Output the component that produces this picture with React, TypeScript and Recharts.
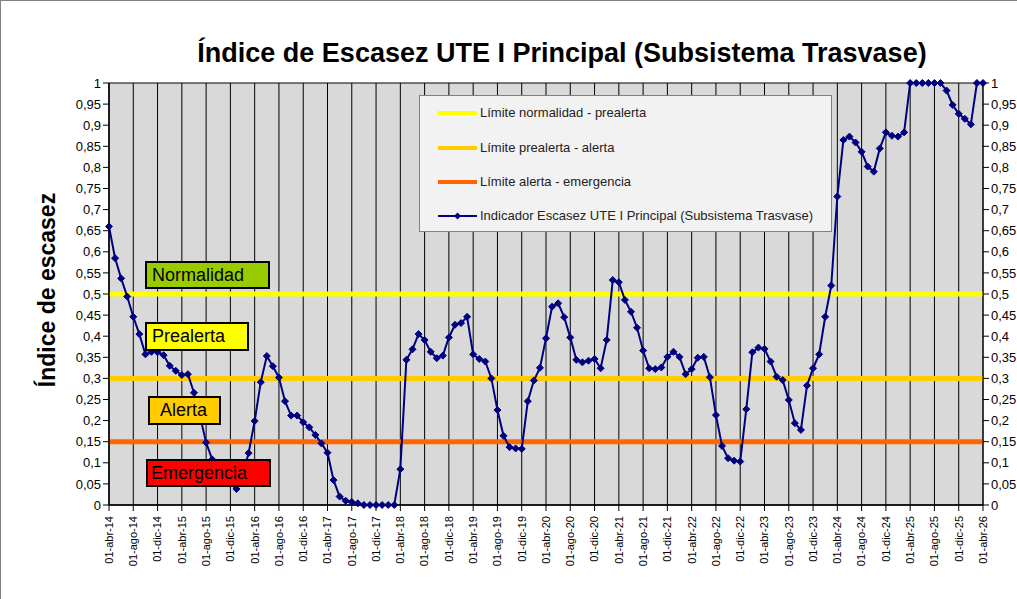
import React from 'react';
import { LineChart, Line, XAxis, YAxis, CartesianGrid, ReferenceLine } from 'recharts';

const MONTHS = ['ene', 'feb', 'mar', 'abr', 'may', 'jun', 'jul', 'ago', 'sep', 'oct', 'nov', 'dic'];
const START_MONTH = 3; // abr
const START_YEAR = 14;

const indicatorValues = [
  0.66, 0.585, 0.537, 0.494, 0.446, 0.405, 0.357, 0.363, 0.362, 0.355,
  0.33, 0.318, 0.308, 0.31, 0.266, 0.21, 0.148, 0.108, 0.09, 0.07,
  0.05, 0.038, 0.07, 0.123, 0.199, 0.291, 0.353, 0.329, 0.302, 0.246,
  0.212, 0.212, 0.196, 0.184, 0.166, 0.146, 0.124, 0.059, 0.02, 0.01,
  0.007, 0.004, 0, 0, 0, 0, 0, 0, 0.085, 0.344,
  0.369, 0.405, 0.391, 0.363, 0.348, 0.354, 0.397, 0.427, 0.431, 0.446,
  0.357, 0.346, 0.34, 0.3, 0.225, 0.164, 0.137, 0.134, 0.133, 0.246,
  0.295, 0.325, 0.395, 0.47, 0.478, 0.445, 0.397, 0.344, 0.338, 0.342,
  0.346, 0.324, 0.391, 0.533, 0.528, 0.486, 0.458, 0.42, 0.366, 0.324,
  0.322, 0.326, 0.351, 0.363, 0.351, 0.31, 0.322, 0.349, 0.351, 0.303,
  0.213, 0.14, 0.111, 0.105, 0.103, 0.227, 0.362, 0.373, 0.37, 0.34,
  0.304, 0.296, 0.249, 0.194, 0.178, 0.283, 0.324, 0.357, 0.446, 0.52,
  0.731, 0.865, 0.873, 0.859, 0.837, 0.802, 0.79, 0.845, 0.883, 0.875,
  0.873, 0.883, 1, 1, 1, 1, 1, 1, 0.982, 0.948,
  0.927, 0.915, 0.902, 1, 1,
];

const categories = indicatorValues.map((_, i) => {
  const m = (START_MONTH + i) % 12;
  const y = START_YEAR + Math.floor((START_MONTH + i) / 12);
  return `01-${MONTHS[m]}-${y}`;
});

const LAST_IDX = categories.length - 1;
const xTickIdx = categories.map((_, i) => i).filter((i) => i % 4 === 0);
const yTicks = [0, 0.05, 0.1, 0.15, 0.2, 0.25, 0.3, 0.35, 0.4, 0.45, 0.5, 0.55, 0.6, 0.65, 0.7, 0.75, 0.8, 0.85, 0.9, 0.95, 1];

const thresholds = [
  { name: 'Límite normalidad - prealerta', value: 0.5, color: '#ffff00' },
  { name: 'Límite prealerta - alerta', value: 0.3, color: '#ffcc00' },
  { name: 'Límite alerta - emergencia', value: 0.15, color: '#ff6600' },
];
const seriesName = 'Indicador Escasez UTE I Principal (Subsistema Trasvase)';

const zoneLabels = [
  { text: 'Normalidad', color: '#99cc00', left: 145, top: 261, width: 125, height: 28, pad: 5 },
  { text: 'Prealerta', color: '#ffff00', left: 145, top: 322, width: 104, height: 29, pad: 5 },
  { text: 'Alerta', color: '#ffcc00', left: 148, top: 396, width: 73, height: 29, pad: 10 },
  { text: 'Emergencia', color: '#ff0000', left: 146, top: 459, width: 125, height: 28, pad: 3 },
];

const data = indicatorValues.map((v, i) => ({ idx: i, label: categories[i], value: v }));

const FONT = '"Liberation Sans", Arial, sans-serif';

const fmt = (v: number) => String(v).replace('.', ',');

const XTick = (props: any) => {
  const { x, y, payload } = props;
  return (
    <text
      x={x}
      y={y + 3}
      transform={`rotate(-90, ${x}, ${y + 3})`}
      textAnchor="end"
      dy="0.35em"
      fontSize={11}
      fontFamily={FONT}
      fill="#000"
    >
      {categories[payload.value]}
    </text>
  );
};

const Diamond = (props: any) => {
  const { cx, cy } = props;
  if (cx == null || cy == null) return null;
  const s = 3.5;
  return (
    <polygon
      points={`${cx},${cy - s} ${cx + s},${cy} ${cx},${cy + s} ${cx - s},${cy}`}
      fill="#000080"
      stroke="#000080"
      strokeWidth={1}
    />
  );
};

export default function App() {
  return (
    <div
      style={{
        position: 'absolute',
        left: 0,
        top: 0,
        width: 1017,
        height: 599,
        overflow: 'hidden',
        background: '#fff',
        borderLeft: '1px solid #808080',
        borderTop: '1px solid #808080',
        boxSizing: 'border-box',
        fontFamily: FONT,
      }}
    >
      <div style={{ position: 'absolute', left: -1, top: -1 }}>
        <LineChart width={1017} height={599} data={data} margin={{ top: 83, right: 0, bottom: 14, left: 49 }}>
          <CartesianGrid stroke="#000" strokeWidth={1} fill="#d9d9d9" fillOpacity={1} vertical={false} />
          {xTickIdx.map((i) => (
            <ReferenceLine key={`vx${i}`} yAxisId="left" x={i} stroke="#000" strokeWidth={1} />
          ))}
          <XAxis
            dataKey="idx"
            type="number"
            domain={[0, LAST_IDX]}
            ticks={xTickIdx}
            interval={0}
            height={80}
            tick={<XTick />}
            tickSize={6}
            axisLine={{ stroke: '#000', strokeWidth: 1.5 }}
            tickLine={{ stroke: '#000' }}
          />
          <YAxis
            yAxisId="left"
            domain={[0, 1]}
            ticks={yTicks}
            interval={0}
            width={60}
            tickFormatter={fmt}
            tick={{ fontSize: 13, fontFamily: FONT, fill: '#000' }}
            axisLine={{ stroke: '#000', strokeWidth: 1.5 }}
            tickLine={{ stroke: '#000' }}
          />
          <YAxis
            yAxisId="right"
            orientation="right"
            domain={[0, 1]}
            ticks={yTicks}
            interval={0}
            width={34}
            tickFormatter={fmt}
            tick={{ fontSize: 13, fontFamily: FONT, fill: '#000' }}
            axisLine={{ stroke: '#000', strokeWidth: 1 }}
            tickLine={{ stroke: '#000' }}
          />
          {thresholds.map((t) => (
            <ReferenceLine key={t.name} yAxisId="left" y={t.value} stroke={t.color} strokeWidth={5} />
          ))}
          <Line
            yAxisId="left"
            dataKey="value"
            stroke="#000080"
            strokeWidth={2}
            dot={<Diamond />}
            activeDot={false}
            isAnimationActive={false}
            name={seriesName}
          />
          <Line
            yAxisId="right"
            dataKey="value"
            stroke="none"
            dot={false}
            activeDot={false}
            isAnimationActive={false}
            legendType="none"
          />
        </LineChart>
      </div>

      <svg
        width={1017}
        height={599}
        style={{ position: 'absolute', left: -1, top: -1, pointerEvents: 'none' }}
      >
        <text x={562} y={62} textAnchor="middle" fontSize={27} fontWeight="bold" fontFamily={FONT} fill="#000">
          Índice de Escasez UTE I Principal (Subsistema Trasvase)
        </text>
        <text
          x={47}
          y={290}
          transform="rotate(-90, 47, 290)"
          textAnchor="middle"
          dy="0.35em"
          fontSize={23}
          fontWeight="bold"
          fontFamily={FONT}
          fill="#000"
        >
          Índice de escasez
        </text>
      </svg>

      {zoneLabels.map((z) => (
        <div
          key={z.text}
          style={{
            position: 'absolute',
            left: z.left - 1,
            top: z.top - 1,
            width: z.width,
            height: z.height,
            boxSizing: 'border-box',
            background: z.color,
            border: '2px solid #000',
            fontSize: 18,
            lineHeight: `${z.height - 4}px`,
            paddingLeft: z.pad,
            color: '#000',
            whiteSpace: 'nowrap',
          }}
        >
          {z.text}
        </div>
      ))}

      <div
        style={{
          position: 'absolute',
          left: 418,
          top: 94,
          width: 413,
          height: 137,
          boxSizing: 'border-box',
          background: '#f2f2f2',
          border: '1px solid #808080',
        }}
      >
        {thresholds.map((t, i) => (
          <div
            key={t.name}
            style={{ position: 'absolute', left: 0, top: 17 + i * 34.5 - 9, height: 18, width: 400 }}
          >
            <div style={{ position: 'absolute', left: 18, top: 7, width: 39, height: 4, background: t.color }} />
            <div style={{ position: 'absolute', left: 60, top: 0, fontSize: 13, lineHeight: '18px', color: '#222' }}>
              {t.name}
            </div>
          </div>
        ))}
        <div style={{ position: 'absolute', left: 0, top: 120 - 9, height: 18, width: 410 }}>
          <svg width={60} height={18} style={{ position: 'absolute', left: 0, top: 0 }}>
            <line x1={18} y1={9} x2={57} y2={9} stroke="#000080" strokeWidth={2} />
            <polygon points="37.5,5.5 41,9 37.5,12.5 34,9" fill="#000080" />
          </svg>
          <div style={{ position: 'absolute', left: 60, top: 0, fontSize: 13, lineHeight: '18px', color: '#222', whiteSpace: 'nowrap' }}>
            {seriesName}
          </div>
        </div>
      </div>
    </div>
  );
}
